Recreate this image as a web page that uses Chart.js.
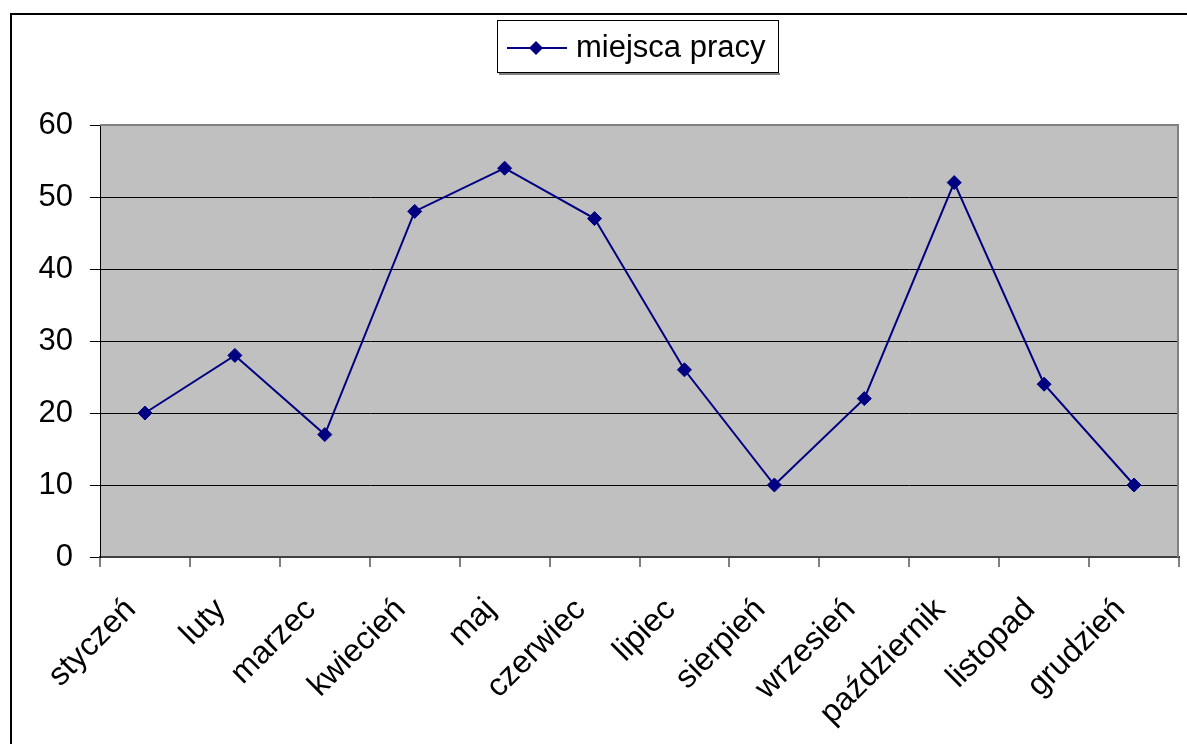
<!DOCTYPE html>
<html>
<head>
<meta charset="utf-8">
<script src="https://cdn.jsdelivr.net/npm/chart.js@4/dist/chart.umd.min.js"></script>
<style>
  html, body { margin: 0; padding: 0; background: #fff; }
  canvas { display: block; }
</style>
</head>
<body>
<canvas id="chart" width="1187" height="744"></canvas>
<script>
// dane
const months = ["styczeń", "luty", "marzec", "kwiecień", "maj", "czerwiec",
                "lipiec", "sierpień", "wrzesień", "październik", "listopad", "grudzień"];
const jobs = [20, 28, 17, 48, 54, 47, 26, 10, 22, 52, 24, 10];
const seriesName = "miejsca pracy";
const yTicks = [0, 10, 20, 30, 40, 50, 60];

const NAVY = "#000080";
const FONT = "Liberation Sans, Arial, sans-serif";

// tło wykresu, ramka i legenda (jak w Excelu)
const excelLook = {
    id: "excelLook",
    beforeDraw(chart) {
        const { ctx, chartArea: a } = chart;
        ctx.save();
        ctx.fillStyle = "#fff";
        ctx.fillRect(0, 0, chart.width, chart.height);
        // ramka obszaru wykresu
        ctx.fillStyle = "#000";
        ctx.fillRect(10, 13, 2, chart.height);
        ctx.fillRect(10, 13, chart.width, 2);
        // tło
        ctx.fillStyle = "#c0c0c0";
        ctx.fillRect(a.left, a.top, a.right - a.left, a.bottom - a.top);
        ctx.restore();
    },
    beforeDatasetsDraw(chart) {
        const { ctx, chartArea: a } = chart;
        ctx.save();
        ctx.strokeStyle = "#808080";
        ctx.lineWidth = 2;
        ctx.beginPath();
        ctx.moveTo(a.left, a.top);
        ctx.lineTo(a.right - 1, a.top);
        ctx.lineTo(a.right - 1, a.bottom);
        ctx.stroke();
        ctx.restore();
    },
    afterDraw(chart) {
        const ctx = chart.ctx;
        const ds = chart.data.datasets[0];
        ctx.save();
        // ramka legendy z cieniem
        ctx.fillStyle = "#808080";
        ctx.fillRect(499, 73, 281, 2);
        ctx.fillStyle = "#fff";
        ctx.fillRect(497, 20, 282, 53);
        ctx.strokeStyle = "#000";
        ctx.lineWidth = 1;
        ctx.strokeRect(497.5, 20.5, 281, 52);
        // próbka linii
        ctx.strokeStyle = ds.borderColor;
        ctx.lineWidth = 2;
        ctx.beginPath();
        ctx.moveTo(507, 48);
        ctx.lineTo(567, 48);
        ctx.stroke();
        ctx.fillStyle = ds.pointBackgroundColor;
        ctx.beginPath();
        ctx.moveTo(536, 41);
        ctx.lineTo(543, 48);
        ctx.lineTo(536, 55);
        ctx.lineTo(529, 48);
        ctx.closePath();
        ctx.fill();
        // tekst
        ctx.fillStyle = "#000";
        ctx.font = "31px " + FONT;
        ctx.textBaseline = "middle";
        ctx.textAlign = "left";
        ctx.fillText(ds.label, 576, 48);
        ctx.restore();
    }
};

new Chart(document.getElementById("chart").getContext("2d"), {
    type: "line",
    data: {
        labels: months,
        datasets: [{
            label: seriesName,
            data: jobs,
            borderColor: NAVY,
            borderWidth: 2,
            tension: 0,
            fill: false,
            pointStyle: "rectRot",
            pointRadius: 7,
            pointBackgroundColor: NAVY,
            pointBorderColor: NAVY,
            pointBorderWidth: 1
        }]
    },
    options: {
        responsive: false,
        animation: false,
        layout: { padding: { top: 125, right: 7, left: 0, bottom: 0 } },
        plugins: {
            legend: { display: false },
            tooltip: { enabled: false }
        },
        scales: {
            x: {
                offset: true,
                afterFit(scale) { scale.height = 187; },
                grid: {
                    offset: true,
                    drawOnChartArea: false,
                    drawTicks: true,
                    tickLength: 10,
                    color: "#808080",
                    lineWidth: 2
                },
                border: { color: "#404040", width: 2 },
                ticks: {
                    color: "#000",
                    font: { family: FONT, size: 32 },
                    maxRotation: 45,
                    minRotation: 45,
                    padding: 24,
                    labelOffset: -14,
                    autoSkip: false
                }
            },
            y: {
                min: yTicks[0],
                max: yTicks[yTicks.length - 1],
                afterFit(scale) { scale.width = 100; },
                afterBuildTicks(scale) { scale.ticks = yTicks.map(v => ({ value: v })); },
                grid: {
                    color: "#000",
                    lineWidth: 1,
                    tickLength: 10,
                    tickColor: "#000"
                },
                border: { color: "#000", width: 1 },
                ticks: {
                    color: "#000",
                    font: { family: FONT, size: 31 },
                    padding: 17
                }
            }
        }
    },
    plugins: [excelLook]
});
</script>
</body>
</html>
